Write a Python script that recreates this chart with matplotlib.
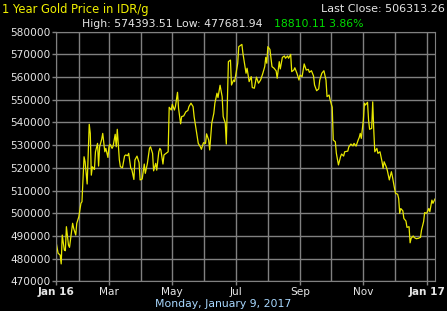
import matplotlib
matplotlib.use('Agg')
from matplotlib import pyplot as plt
import matplotlib.dates as mdates
import pandas as pd

# gold price, IDR per gram
start = '2016-01-10'
end = '2017-01-09'

days = [0, 2, 4, 5, 6, 8, 9, 10, 12, 13, 16, 17, 19, 20, 22, 24, 25, 27, 28, 30,
        32, 33, 34, 35, 37, 38, 40, 41, 42, 44, 45, 47, 48, 50, 51, 52, 54, 55, 57, 58,
        59, 61, 62, 64, 66, 67, 69, 70, 72, 73, 75, 76, 78, 80, 81, 83, 85, 86, 88, 90,
        91, 93, 94, 96, 97, 99, 100, 101, 103, 104, 106, 108, 109, 111, 112, 114, 115, 117, 118, 120,
        121, 123, 125, 127, 128, 130, 132, 133, 135, 137, 139, 140, 142, 144, 145, 147, 148, 150, 152, 153,
        155, 156, 158, 160, 161, 163, 164, 166, 168, 169, 171, 172, 175, 176, 179, 180, 183, 184, 186, 188,
        189, 191, 193, 195, 197, 199, 201, 202, 203, 204, 206, 208, 210, 212, 213, 215, 216, 218, 220, 221,
        223, 224, 226, 227, 229, 230, 232, 234, 235, 237, 239, 241, 243, 244, 246, 248, 249, 251, 253, 254,
        256, 258, 260, 261, 263, 264, 266, 267, 269, 270, 272, 274, 275, 277, 278, 281, 282, 284, 286, 287,
        289, 291, 292, 293, 294, 296, 297, 298, 300, 301, 302, 304, 305, 306, 307, 309, 310, 312, 314, 315,
        316, 318, 319, 321, 323, 324, 326, 327, 329, 330, 331, 332, 334, 335, 337, 338, 340, 341, 342, 344,
        345, 347, 349, 351, 352, 354, 355, 357, 359, 360, 362, 363, 365]

price = [487500, 482400, 481600, 477700, 490400, 483800, 483500, 494100, 486000, 485000,
         495600, 493400, 490400, 495600, 498500, 504400, 505100, 524900, 522700, 512900,
         539200, 535200, 516800, 520500, 519300, 527100, 530800, 520800, 529300, 532600,
         535200, 527100, 528600, 524600, 529300, 530400, 528600, 529600, 534800, 529300,
         537000, 523500, 520500, 520100, 525200, 525700, 525400, 526400, 519800, 519300,
         514900, 523500, 525200, 522300, 514700, 515100, 521700, 517600, 522000, 528600,
         529300, 526400, 518700, 522000, 519000, 527100, 528600, 527900, 521700, 525700,
         526400, 527100, 546700, 545500, 548000, 545500, 547000, 553300, 546300, 539400,
         542600, 542900, 544700, 545300, 547000, 548500, 547000, 542600, 536700, 530800,
         529300, 528200, 531100, 530800, 535000, 532300, 527900, 539700, 544100, 548500,
         552900, 551000, 556400, 551400, 542600, 539700, 530500, 566800, 567500, 556500,
         558700, 558000, 566100, 573400, 574390, 570500, 561700, 563900, 558000, 560200,
         555400, 555100, 560000, 557300, 558700, 561400, 564600, 568700, 566100, 573400,
         572200, 564600, 563900, 562700, 559500, 566800, 563600, 568700, 569300, 568300,
         569300, 568300, 570000, 562400, 563100, 564100, 561700, 558700, 560900, 560200,
         565800, 563100, 563400, 562100, 562800, 560500, 556500, 554000, 554800, 558700,
         561700, 562800, 558700, 551400, 552100, 549900, 546700, 532300, 531500, 526400,
         521300, 524900, 526100, 525200, 527100, 527400, 529300, 530500, 529700, 530800,
         529600, 532300, 533400, 535200, 533000, 541100, 548500, 547700, 548900, 541100,
         537000, 537400, 549100, 536700, 527100, 528600, 526400, 527100, 522700, 519800,
         522700, 520500, 519000, 514700, 518300, 516100, 511000, 508800, 508400, 506500,
         500000, 502100, 501100, 497700, 496600, 493800, 494100, 487000, 489000, 490000,
         489300, 488800, 489000, 489400, 492600, 496300, 500300, 500000, 502100, 500700,
         505800, 504400, 506313]

tick_dates = ['2016-01-10', '2016-03-01', '2016-05-01', '2016-07-01',
              '2016-09-01', '2016-11-01', '2017-01-01']
tick_labels = ['Jan 16', 'Mar', 'May', 'Jul', 'Sep', 'Nov', 'Jan 17']
y_ticks = list(range(470000, 580001, 10000))

dates = pd.Timestamp(start) + pd.to_timedelta(days, unit='D')

grid_col = '#808080'
txt_col = '#e6e6e6'

fig = plt.figure(figsize=(4.47, 3.11), dpi=100, facecolor='black')
ax = fig.add_axes([0.1253, 0.0952, 0.8479, 0.8029], facecolor='black')

ax.plot(dates, price, color='#e8e800', lw=0.9)

ax.set_xlim(pd.Timestamp(start), pd.Timestamp(end))
ax.set_ylim(470000, 580000)

ax.set_yticks(y_ticks)
ax.set_yticklabels([str(v) for v in y_ticks])
ax.set_xticks(pd.to_datetime(tick_dates))
ax.set_xticklabels(tick_labels)
ax.xaxis.set_minor_locator(mdates.MonthLocator())

ax.grid(True, which='both', color=grid_col, lw=1.0)
ax.set_axisbelow(True)
for s in ax.spines.values():
    s.set_color(grid_col)
ax.tick_params(axis='both', which='both', colors=grid_col, length=3, width=1,
               labelcolor=txt_col, labelsize=7.6, pad=1)
ax.tick_params(axis='x', which='minor', length=0)
for lab in ax.get_xticklabels():
    if lab.get_text().startswith('Jan'):
        lab.set_fontweight('bold')

W, H = 447, 311
fig.text(2 / W, 1 - 9 / H, '1 Year Gold Price in IDR/g', color='#f0f000',
         fontsize=8.3, ha='left', va='center')
fig.text(445 / W, 1 - 9 / H, 'Last Close: 506313.26', color=txt_col,
         fontsize=8.0, ha='right', va='center')
fig.text(82 / W, 1 - 24 / H, 'High: 574393.51 Low: 477681.94', color=txt_col,
         fontsize=7.8, ha='left', va='center')
fig.text(274 / W, 1 - 24 / H, '18810.11 3.86%', color='#00e000',
         fontsize=7.8, ha='left', va='center')
fig.text(223 / W, 1 - 304 / H, 'Monday, January 9, 2017', color='#a8d8ff',
         fontsize=7.8, ha='center', va='center')

fig.savefig('out.png', dpi=100, facecolor='black')
